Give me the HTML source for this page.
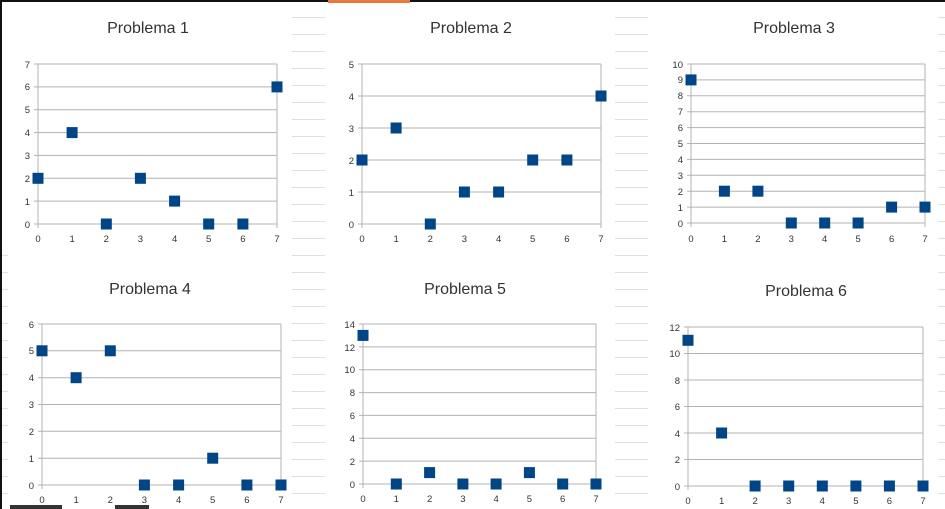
<!DOCTYPE html>
<html><head><meta charset="utf-8"><style>
html,body{margin:0;padding:0;background:#fff;width:945px;height:509px;overflow:hidden}
svg{display:block}
text{font-family:"Liberation Sans",sans-serif;fill:#333}
.t{font-size:16px;text-anchor:middle;fill:#333}
.yl{font-size:9.5px;text-anchor:end}
.xl{font-size:9.5px;text-anchor:middle}
.g line{stroke:#b3b3b3;stroke-width:1}
.bg line{stroke:#c0c0c0;stroke-width:1}
rect.m{fill:#004586}
</style></head><body>
<svg width="945" height="509" viewBox="0 0 945 509">
<defs>
<pattern id="rows" width="40" height="17" patternUnits="userSpaceOnUse" y="1">
<line x1="0" y1="17" x2="40" y2="17" stroke="#c0c0c0" stroke-width="1"/>
</pattern>
</defs>
<rect x="292" y="0" width="33" height="509" fill="url(#rows)"/>
<rect x="615" y="0" width="33" height="509" fill="url(#rows)"/>
<rect x="938" y="0" width="7" height="509" fill="url(#rows)"/>
<rect x="0" y="255" width="8" height="254" fill="url(#rows)"/>
<rect x="0" y="0" width="945" height="2" fill="#111"/>
<rect x="328" y="0" width="82" height="3" fill="#e87b3c"/>
<rect x="0" y="0" width="2" height="509" fill="#111"/>
<rect x="10" y="505" width="52" height="4" fill="#333"/>
<rect x="115" y="505" width="34" height="4" fill="#333"/>

<!-- Chart 1 -->
<text class="t" x="148" y="33">Problema 1</text>
<g class="g">
<line x1="34" y1="224" x2="277" y2="224"/><line x1="34" y1="201.1" x2="277" y2="201.1"/><line x1="34" y1="178.3" x2="277" y2="178.3"/><line x1="34" y1="155.4" x2="277" y2="155.4"/><line x1="34" y1="132.6" x2="277" y2="132.6"/><line x1="34" y1="109.7" x2="277" y2="109.7"/><line x1="34" y1="86.9" x2="277" y2="86.9"/><line x1="34" y1="64" x2="277" y2="64"/>
<line x1="38" y1="64" x2="38" y2="228"/><line x1="277" y1="64" x2="277" y2="228"/>
</g>
<text class="yl" x="30" y="228">0</text><text class="yl" x="30" y="205">1</text><text class="yl" x="30" y="182">2</text><text class="yl" x="30" y="159">3</text><text class="yl" x="30" y="136">4</text><text class="yl" x="30" y="113">5</text><text class="yl" x="30" y="90">6</text><text class="yl" x="30" y="68">7</text>
<text class="xl" x="38" y="242">0</text><text class="xl" x="72.1" y="242">1</text><text class="xl" x="106.3" y="242">2</text><text class="xl" x="140.4" y="242">3</text><text class="xl" x="174.6" y="242">4</text><text class="xl" x="208.7" y="242">5</text><text class="xl" x="242.9" y="242">6</text><text class="xl" x="277" y="242">7</text>
<g transform="translate(-5.5,-5.5)">
<rect class="m" x="38" y="178.3" width="11" height="11"/><rect class="m" x="72.1" y="132.6" width="11" height="11"/><rect class="m" x="106.3" y="224" width="11" height="11"/><rect class="m" x="140.4" y="178.3" width="11" height="11"/><rect class="m" x="174.6" y="201.1" width="11" height="11"/><rect class="m" x="208.7" y="224" width="11" height="11"/><rect class="m" x="242.9" y="224" width="11" height="11"/><rect class="m" x="277" y="86.9" width="11" height="11"/>
</g>

<!-- Chart 2 -->
<text class="t" x="471" y="33">Problema 2</text>
<g class="g">
<line x1="358" y1="224" x2="601" y2="224"/><line x1="358" y1="192" x2="601" y2="192"/><line x1="358" y1="160" x2="601" y2="160"/><line x1="358" y1="128" x2="601" y2="128"/><line x1="358" y1="96" x2="601" y2="96"/><line x1="358" y1="64" x2="601" y2="64"/>
<line x1="362" y1="64" x2="362" y2="228"/><line x1="601" y1="64" x2="601" y2="228"/>
</g>
<text class="yl" x="354" y="228">0</text><text class="yl" x="354" y="196">1</text><text class="yl" x="354" y="164">2</text><text class="yl" x="354" y="132">3</text><text class="yl" x="354" y="100">4</text><text class="yl" x="354" y="68">5</text>
<text class="xl" x="362" y="242">0</text><text class="xl" x="396.1" y="242">1</text><text class="xl" x="430.3" y="242">2</text><text class="xl" x="464.4" y="242">3</text><text class="xl" x="498.6" y="242">4</text><text class="xl" x="532.7" y="242">5</text><text class="xl" x="566.9" y="242">6</text><text class="xl" x="601" y="242">7</text>
<g transform="translate(-5.5,-5.5)">
<rect class="m" x="362" y="160" width="11" height="11"/><rect class="m" x="396.1" y="128" width="11" height="11"/><rect class="m" x="430.3" y="224" width="11" height="11"/><rect class="m" x="464.4" y="192" width="11" height="11"/><rect class="m" x="498.6" y="192" width="11" height="11"/><rect class="m" x="532.7" y="160" width="11" height="11"/><rect class="m" x="566.9" y="160" width="11" height="11"/><rect class="m" x="601" y="96" width="11" height="11"/>
</g>

<!-- Chart 3 -->
<text class="t" x="794" y="33">Problema 3</text>
<g class="g">
<line x1="687" y1="223" x2="925" y2="223"/><line x1="687" y1="207.1" x2="925" y2="207.1"/><line x1="687" y1="191.2" x2="925" y2="191.2"/><line x1="687" y1="175.3" x2="925" y2="175.3"/><line x1="687" y1="159.4" x2="925" y2="159.4"/><line x1="687" y1="143.5" x2="925" y2="143.5"/><line x1="687" y1="127.6" x2="925" y2="127.6"/><line x1="687" y1="111.7" x2="925" y2="111.7"/><line x1="687" y1="95.8" x2="925" y2="95.8"/><line x1="687" y1="79.9" x2="925" y2="79.9"/><line x1="687" y1="64" x2="925" y2="64"/>
<line x1="691" y1="64" x2="691" y2="227"/><line x1="925" y1="64" x2="925" y2="227"/>
</g>
<text class="yl" x="683" y="227">0</text><text class="yl" x="683" y="211">1</text><text class="yl" x="683" y="195">2</text><text class="yl" x="683" y="179">3</text><text class="yl" x="683" y="163">4</text><text class="yl" x="683" y="147">5</text><text class="yl" x="683" y="131">6</text><text class="yl" x="683" y="115">7</text><text class="yl" x="683" y="99">8</text><text class="yl" x="683" y="83">9</text><text class="yl" x="683" y="68">10</text>
<text class="xl" x="691" y="242">0</text><text class="xl" x="724.4" y="242">1</text><text class="xl" x="757.9" y="242">2</text><text class="xl" x="791.3" y="242">3</text><text class="xl" x="824.7" y="242">4</text><text class="xl" x="858.1" y="242">5</text><text class="xl" x="891.6" y="242">6</text><text class="xl" x="925" y="242">7</text>
<g transform="translate(-5.5,-5.5)">
<rect class="m" x="691" y="79.9" width="11" height="11"/><rect class="m" x="724.4" y="191.2" width="11" height="11"/><rect class="m" x="757.9" y="191.2" width="11" height="11"/><rect class="m" x="791.3" y="223" width="11" height="11"/><rect class="m" x="824.7" y="223" width="11" height="11"/><rect class="m" x="858.1" y="223" width="11" height="11"/><rect class="m" x="891.6" y="207.1" width="11" height="11"/><rect class="m" x="925" y="207.1" width="11" height="11"/>
</g>

<!-- Chart 4 -->
<text class="t" x="150" y="294">Problema 4</text>
<g class="g">
<line x1="38" y1="485" x2="281" y2="485"/><line x1="38" y1="458.2" x2="281" y2="458.2"/><line x1="38" y1="431.3" x2="281" y2="431.3"/><line x1="38" y1="404.5" x2="281" y2="404.5"/><line x1="38" y1="377.7" x2="281" y2="377.7"/><line x1="38" y1="350.8" x2="281" y2="350.8"/><line x1="38" y1="324" x2="281" y2="324"/>
<line x1="42" y1="324" x2="42" y2="489"/><line x1="281" y1="324" x2="281" y2="489"/>
</g>
<text class="yl" x="34" y="489">0</text><text class="yl" x="34" y="462">1</text><text class="yl" x="34" y="435">2</text><text class="yl" x="34" y="408">3</text><text class="yl" x="34" y="381">4</text><text class="yl" x="34" y="354">5</text><text class="yl" x="34" y="328">6</text>
<text class="xl" x="42" y="503">0</text><text class="xl" x="76.1" y="503">1</text><text class="xl" x="110.3" y="503">2</text><text class="xl" x="144.4" y="503">3</text><text class="xl" x="178.6" y="503">4</text><text class="xl" x="212.7" y="503">5</text><text class="xl" x="246.9" y="503">6</text><text class="xl" x="281" y="503">7</text>
<g transform="translate(-5.5,-5.5)">
<rect class="m" x="42" y="350.8" width="11" height="11"/><rect class="m" x="76.1" y="377.7" width="11" height="11"/><rect class="m" x="110.3" y="350.8" width="11" height="11"/><rect class="m" x="144.4" y="485" width="11" height="11"/><rect class="m" x="178.6" y="485" width="11" height="11"/><rect class="m" x="212.7" y="458.2" width="11" height="11"/><rect class="m" x="246.9" y="485" width="11" height="11"/><rect class="m" x="281" y="485" width="11" height="11"/>
</g>

<!-- Chart 5 -->
<text class="t" x="465" y="294">Problema 5</text>
<g class="g">
<line x1="359" y1="484" x2="596" y2="484"/><line x1="359" y1="461.1" x2="596" y2="461.1"/><line x1="359" y1="438.3" x2="596" y2="438.3"/><line x1="359" y1="415.4" x2="596" y2="415.4"/><line x1="359" y1="392.6" x2="596" y2="392.6"/><line x1="359" y1="369.7" x2="596" y2="369.7"/><line x1="359" y1="346.9" x2="596" y2="346.9"/><line x1="359" y1="324" x2="596" y2="324"/>
<line x1="363" y1="324" x2="363" y2="488"/><line x1="596" y1="324" x2="596" y2="488"/>
</g>
<text class="yl" x="355" y="488">0</text><text class="yl" x="355" y="465">2</text><text class="yl" x="355" y="442">4</text><text class="yl" x="355" y="419">6</text><text class="yl" x="355" y="396">8</text><text class="yl" x="355" y="373">10</text><text class="yl" x="355" y="351">12</text><text class="yl" x="355" y="328">14</text>
<text class="xl" x="363" y="502">0</text><text class="xl" x="396.3" y="502">1</text><text class="xl" x="429.6" y="502">2</text><text class="xl" x="462.9" y="502">3</text><text class="xl" x="496.1" y="502">4</text><text class="xl" x="529.4" y="502">5</text><text class="xl" x="562.7" y="502">6</text><text class="xl" x="596" y="502">7</text>
<g transform="translate(-5.5,-5.5)">
<rect class="m" x="363" y="335.4" width="11" height="11"/><rect class="m" x="396.3" y="484" width="11" height="11"/><rect class="m" x="429.6" y="472.6" width="11" height="11"/><rect class="m" x="462.9" y="484" width="11" height="11"/><rect class="m" x="496.1" y="484" width="11" height="11"/><rect class="m" x="529.4" y="472.6" width="11" height="11"/><rect class="m" x="562.7" y="484" width="11" height="11"/><rect class="m" x="596" y="484" width="11" height="11"/>
</g>

<!-- Chart 6 -->
<text class="t" x="806" y="296">Problema 6</text>
<g class="g">
<line x1="684" y1="486" x2="923" y2="486"/><line x1="684" y1="459.5" x2="923" y2="459.5"/><line x1="684" y1="433" x2="923" y2="433"/><line x1="684" y1="406.5" x2="923" y2="406.5"/><line x1="684" y1="380" x2="923" y2="380"/><line x1="684" y1="353.5" x2="923" y2="353.5"/><line x1="684" y1="327" x2="923" y2="327"/>
<line x1="688" y1="327" x2="688" y2="490"/><line x1="923" y1="327" x2="923" y2="490"/>
</g>
<text class="yl" x="680" y="490">0</text><text class="yl" x="680" y="463">2</text><text class="yl" x="680" y="437">4</text><text class="yl" x="680" y="410">6</text><text class="yl" x="680" y="384">8</text><text class="yl" x="680" y="357">10</text><text class="yl" x="680" y="331">12</text>
<text class="xl" x="688" y="504">0</text><text class="xl" x="721.6" y="504">1</text><text class="xl" x="755.1" y="504">2</text><text class="xl" x="788.7" y="504">3</text><text class="xl" x="822.3" y="504">4</text><text class="xl" x="855.9" y="504">5</text><text class="xl" x="889.4" y="504">6</text><text class="xl" x="923" y="504">7</text>
<g transform="translate(-5.5,-5.5)">
<rect class="m" x="688" y="340.3" width="11" height="11"/><rect class="m" x="721.6" y="433" width="11" height="11"/><rect class="m" x="755.1" y="486" width="11" height="11"/><rect class="m" x="788.7" y="486" width="11" height="11"/><rect class="m" x="822.3" y="486" width="11" height="11"/><rect class="m" x="855.9" y="486" width="11" height="11"/><rect class="m" x="889.4" y="486" width="11" height="11"/><rect class="m" x="923" y="486" width="11" height="11"/>
</g>
</svg>
</body></html>
